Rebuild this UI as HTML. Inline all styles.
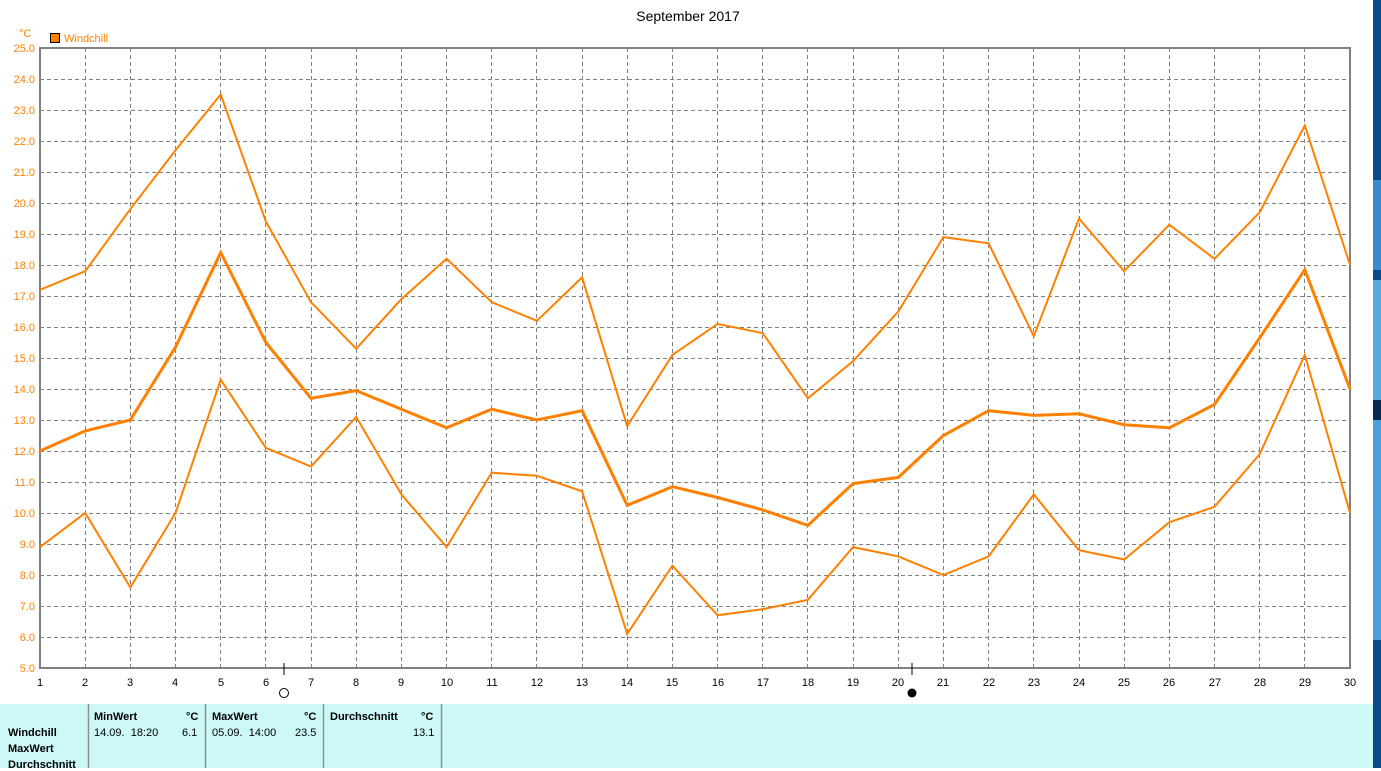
<!DOCTYPE html>
<html><head><meta charset="utf-8"><style>
body{margin:0;width:1381px;height:768px;background:#fff;overflow:hidden;position:relative;font-family:"Liberation Sans",sans-serif}
.t{position:absolute;font-size:11px;color:#000;white-space:nowrap}
.b{font-weight:bold}
</style></head><body>
<svg width="1381" height="768" style="position:absolute;left:0;top:0" font-family="Liberation Sans, sans-serif">
<text x="688" y="21" font-size="14" text-anchor="middle">September 2017</text>
<text x="19" y="37" font-size="11" fill="#ff8000">°C</text>
<rect x="50.5" y="33.5" width="9" height="9" fill="#ff8000" stroke="#000"/>
<text x="64" y="42" font-size="11" fill="#ff8000">Windchill</text>
<g stroke="#808080" stroke-dasharray="4,3" stroke-width="1">
<path d="M40 79.5H1350M40 110.5H1350M40 141.5H1350M40 172.5H1350M40 203.5H1350M40 234.5H1350M40 265.5H1350M40 296.5H1350M40 327.5H1350M40 358.5H1350M40 389.5H1350M40 420.5H1350M40 451.5H1350M40 482.5H1350M40 513.5H1350M40 544.5H1350M40 575.5H1350M40 606.5H1350M40 637.5H1350"/>
<path d="M85.5 48V668M130.5 48V668M175.5 48V668M220.5 48V668M265.5 48V668M311.5 48V668M356.5 48V668M401.5 48V668M446.5 48V668M491.5 48V668M536.5 48V668M582.5 48V668M627.5 48V668M672.5 48V668M717.5 48V668M762.5 48V668M807.5 48V668M853.5 48V668M898.5 48V668M943.5 48V668M988.5 48V668M1033.5 48V668M1079.5 48V668M1124.5 48V668M1169.5 48V668M1214.5 48V668M1259.5 48V668M1304.5 48V668"/>
</g>
<rect x="40" y="48" width="1310" height="620" fill="none" stroke="#808080" stroke-width="2"/>
<g font-size="11" fill="#ff8000" text-anchor="end">
<text x="35" y="52">25.0</text><text x="35" y="83">24.0</text><text x="35" y="114">23.0</text><text x="35" y="145">22.0</text><text x="35" y="176">21.0</text><text x="35" y="207">20.0</text><text x="35" y="238">19.0</text><text x="35" y="269">18.0</text><text x="35" y="300">17.0</text><text x="35" y="331">16.0</text><text x="35" y="362">15.0</text><text x="35" y="393">14.0</text><text x="35" y="424">13.0</text><text x="35" y="455">12.0</text><text x="35" y="486">11.0</text><text x="35" y="517">10.0</text><text x="35" y="548">9.0</text><text x="35" y="579">8.0</text><text x="35" y="610">7.0</text><text x="35" y="641">6.0</text><text x="35" y="672">5.0</text>
</g>
<g font-size="11" fill="#000" text-anchor="middle">
<text x="40" y="686">1</text><text x="85" y="686">2</text><text x="130" y="686">3</text><text x="175" y="686">4</text><text x="221" y="686">5</text><text x="266" y="686">6</text><text x="311" y="686">7</text><text x="356" y="686">8</text><text x="401" y="686">9</text><text x="447" y="686">10</text><text x="492" y="686">11</text><text x="537" y="686">12</text><text x="582" y="686">13</text><text x="627" y="686">14</text><text x="672" y="686">15</text><text x="718" y="686">16</text><text x="763" y="686">17</text><text x="808" y="686">18</text><text x="853" y="686">19</text><text x="898" y="686">20</text><text x="943" y="686">21</text><text x="989" y="686">22</text><text x="1034" y="686">23</text><text x="1079" y="686">24</text><text x="1124" y="686">25</text><text x="1169" y="686">26</text><text x="1215" y="686">27</text><text x="1260" y="686">28</text><text x="1305" y="686">29</text><text x="1350" y="686">30</text>
</g>
<path d="M284 663V675M912 663V675" stroke="#000"/>
<circle cx="284" cy="693" r="4.5" fill="#fff" stroke="#000"/>
<circle cx="912" cy="693" r="4.5" fill="#000"/>
<g fill="none" stroke="#ff8000" stroke-linejoin="miter">
<polyline stroke-width="2" points="40,289.8 85.2,271.2 130.3,209.2 175.5,150.3 220.7,94.5 265.9,221.6 311,302.2 356.2,348.7 401.4,299.1 446.6,258.8 491.7,302.2 536.9,320.8 582.1,277.4 627.2,426.2 672.4,354.9 717.6,323.9 762.8,333.2 807.9,398.3 853.1,361.1 898.3,311.5 943.4,237.1 988.6,243.3 1033.8,336.3 1079,218.5 1124.1,271.2 1169.3,224.7 1214.5,258.8 1259.7,212.3 1304.8,125.5 1350,265"/>
<polyline stroke-width="3" points="40,451 85.2,430.9 130.3,420 175.5,347.2 220.7,252.6 265.9,342.5 311,398.3 356.2,390.6 401.4,409.2 446.6,427.8 491.7,409.2 536.9,420 582.1,410.7 627.2,505.3 672.4,486.7 717.6,497.5 762.8,509.9 807.9,525.4 853.1,483.6 898.3,477.4 943.4,435.5 988.6,410.7 1033.8,415.4 1079,413.8 1124.1,424.7 1169.3,427.8 1214.5,404.5 1259.7,337.9 1304.8,269.7 1350,389"/>
<polyline stroke-width="2" points="40,547.1 85.2,513 130.3,587.4 175.5,513 220.7,379.7 265.9,447.9 311,466.5 356.2,416.9 401.4,494.4 446.6,547.1 491.7,472.7 536.9,475.8 582.1,491.3 627.2,633.9 672.4,565.7 717.6,615.3 762.8,609.1 807.9,599.8 853.1,547.1 898.3,556.4 943.4,575 988.6,556.4 1033.8,494.4 1079,550.2 1124.1,559.5 1169.3,522.3 1214.5,506.8 1259.7,454.1 1304.8,354.9 1350,513"/>
</g>
<rect x="0" y="704" width="1373" height="64" fill="#ccf8f8"/>
<path d="M88.5 704V768M205.5 704V768M323.5 704V768M441.5 704V768" stroke="#909090" stroke-width="1.5"/>
<rect x="1373" y="0" width="8" height="768" fill="#0a4a8a"/>
<rect x="1373" y="180" width="8" height="90" fill="#3a8ad0"/>
<rect x="1373" y="280" width="8" height="120" fill="#5aa8e0"/>
<rect x="1373" y="400" width="8" height="20" fill="#062a50"/>
<rect x="1373" y="420" width="8" height="220" fill="#4aa0dc"/>
</svg>
<div class="t b" style="left:94px;top:711px">MinWert</div>
<div class="t b" style="left:186px;top:711px">°C</div>
<div class="t b" style="left:212px;top:711px">MaxWert</div>
<div class="t b" style="left:304px;top:711px">°C</div>
<div class="t b" style="left:330px;top:711px">Durchschnitt</div>
<div class="t b" style="left:421px;top:711px">°C</div>
<div class="t b" style="left:8px;top:727px">Windchill</div>
<div class="t b" style="left:8px;top:743px">MaxWert</div>
<div class="t b" style="left:8px;top:759px">Durchschnitt</div>
<div class="t" style="left:94px;top:727px">14.09.&nbsp; 18:20</div>
<div class="t" style="left:182px;top:727px">6.1</div>
<div class="t" style="left:212px;top:727px">05.09.&nbsp; 14:00</div>
<div class="t" style="left:295px;top:727px">23.5</div>
<div class="t" style="left:413px;top:727px">13.1</div>
</body></html>
